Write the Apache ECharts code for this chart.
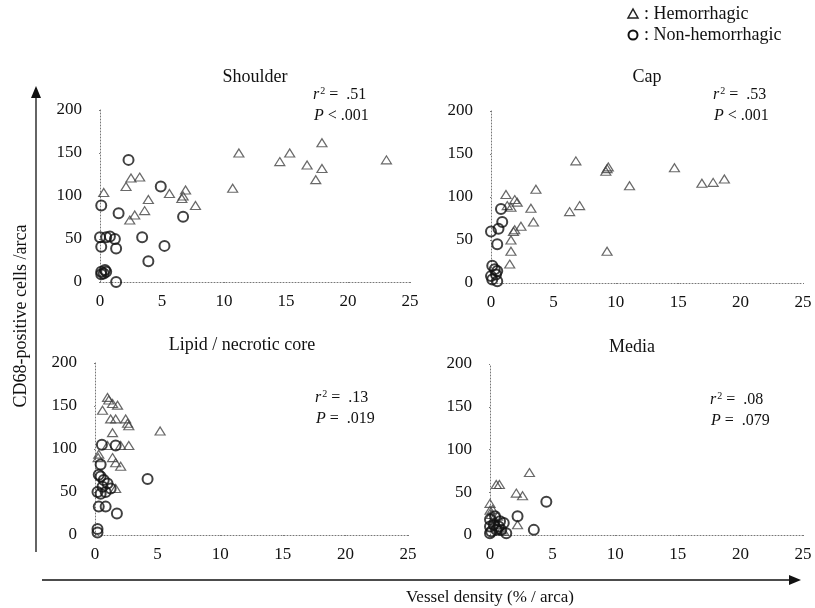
<!DOCTYPE html>
<html>
<head>
<meta charset="utf-8">
<script src="https://cdn.jsdelivr.net/npm/echarts@6/dist/echarts.min.js"></script>
<style>
html,body{margin:0;padding:0;background:#fff;}
#c{width:815px;height:608px;}
</style>
</head>
<body>
<div id="c"></div>
<script>
// ---- Data (vessel density %, CD68-positive cells) ----
var panelTitles = ['Shoulder', 'Cap', 'Lipid / necrotic core', 'Media'];
var r2Labels = ['.51', '.53', '.13', '.08'];
var pLabels = ['< .001', '< .001', '=  .019', '=  .079'];

var shoulderHem = [[0.3,104],[2.5,121],[2.1,111],[3.2,122],[2.4,72],[2.8,78],[3.6,83],[3.9,96],
  [5.6,103],[6.6,97],[6.7,100],[6.9,107],[7.7,89],[10.7,109],[11.2,150],[14.5,140],[15.3,150],
  [16.7,136],[17.9,162],[17.9,132],[17.4,119],[23.1,142]];
var shoulderNon = [[2.3,142],[0.1,89],[1.5,80],[0.0,52],[0.5,52],[0.8,53],[1.2,50],[0.1,41],[1.3,39],
  [3.4,52],[4.9,111],[5.2,42],[3.9,24],[6.7,76],[0.1,12],[0.4,14],[0.3,10],[0.1,9],[0.5,12],[1.3,0]];

var capHem = [[6.8,142],[9.3,133],[9.4,135],[9.2,130],[14.7,134],[11.1,113],[16.9,116],[17.8,117],
  [18.7,121],[3.6,109],[1.2,103],[1.3,90],[1.9,97],[2.1,94],[1.6,88],[3.2,87],[6.3,83],[7.1,90],
  [3.4,71],[2.4,66],[1.9,62],[1.8,60],[1.6,50],[1.6,37],[1.5,22],[9.3,37]];
var capNon = [[0.8,86],[0.9,71],[0.6,63],[0.0,60],[0.5,45],[0.1,20],[0.3,16],[0.4,10],[0.1,4],
  [0.5,2],[0.0,8],[0.5,14]];

var lipidHem = [[1.0,160],[1.1,157],[1.4,153],[1.8,151],[0.6,145],[1.25,135],[1.65,135],[2.45,135],
  [2.7,127],[2.6,130],[1.4,119],[1.0,104],[2.05,104],[2.7,104],[0.25,90],[1.4,90],[1.65,84],
  [2.05,80],[1.65,54],[0.3,94],[5.2,121]];
var lipidNon = [[0.55,105],[1.65,104],[0.45,82],[0.3,70],[0.45,68],[0.7,64],[1.0,60],[0.6,56],
  [0.2,50],[0.45,48],[0.85,50],[1.25,54],[0.3,33],[0.85,33],[1.75,25],[0.2,3],[0.2,7],[4.2,65]];

var mediaHem = [[0.5,59],[0.75,59],[2.1,49],[2.6,46],[3.15,73],[0.0,37],[2.2,12],[0.0,29],[0.1,24],
  [0.3,20],[0.4,16],[0.5,12],[0.7,8],[0.9,6],[1.1,4],[0.2,30],[0.6,22]];
var mediaNon = [[4.5,39],[2.2,22],[3.5,6],[0.0,18],[0.3,12],[0.5,6],[0.0,2],[0.4,22],[0.8,16],
  [0.7,10],[1.1,14],[0.0,10],[0.1,4],[0.9,6],[1.3,2]];

var hemSets = [shoulderHem, capHem, lipidHem, mediaHem];
var nonSets = [shoulderNon, capNon, lipidNon, mediaNon];

var xMin = 0, xMax = 25, xStep = 5;
var yMin = 0, yMax = 200, yStep = 50;

// ---- Layout ----
var grids = [
  {left:100, top:110, width:310, height:172},
  {left:491, top:111, width:312, height:172},
  {left:95,  top:363, width:313, height:172},
  {left:490, top:364, width:313, height:171}
];
var titlePos = [[255,77],[647,77],[242,345],[632,347]];
var statPos = [[313,95],[713,95],[315,398],[710,400]];

var FONT = '"Liberation Serif", "Times New Roman", serif';
var dotted = {color:'#777', width:1, type:[1,2]};

var option = {
  animation:false,
  backgroundColor:'#fff',
  grid: grids,
  xAxis: [], yAxis: [], series: [],
  graphic: []
};

for (var i=0;i<4;i++){
  option.xAxis.push({
    gridIndex:i, type:'value', min:xMin, max:xMax, interval:xStep,
    axisLine:{show:true, lineStyle:dotted},
    axisTick:{show:true, length:3, inside:false, lineStyle:dotted},
    splitLine:{show:false},
    axisLabel:{fontFamily:FONT, fontSize:17, color:'#111', margin:11}
  });
  option.yAxis.push({
    gridIndex:i, type:'value', min:yMin, max:yMax, interval:yStep,
    axisLine:{show:true, lineStyle:dotted},
    axisTick:{show:true, length:3, lineStyle:dotted},
    splitLine:{show:false},
    axisLabel:{fontFamily:FONT, fontSize:17, color:'#111', margin:18}
  });
  option.series.push({
    type:'scatter', xAxisIndex:i, yAxisIndex:i, data:hemSets[i],
    symbol:'triangle', symbolSize:[10,8],
    itemStyle:{color:'rgba(255,255,255,0)', borderColor:'#444', borderWidth:1.2}
  });
  option.series.push({
    type:'scatter', xAxisIndex:i, yAxisIndex:i, data:nonSets[i],
    symbol:'circle', symbolSize:10,
    itemStyle:{color:'rgba(255,255,255,0)', borderColor:'#111', borderWidth:2}
  });
  option.graphic.push({
    type:'text', x:titlePos[i][0], y:titlePos[i][1],
    style:{text:panelTitles[i], font:'18px '+FONT, fill:'#111', textAlign:'center', textVerticalAlign:'middle'}
  });
  option.graphic.push({
    type:'text', x:statPos[i][0], y:statPos[i][1],
    style:{
      text:'{i|r}{s|2}{n| =  '+r2Labels[i]+'}',
      textVerticalAlign:'middle',
      rich:{
        i:{fontFamily:FONT, fontStyle:'italic', fontSize:16, fill:'#111', lineHeight:18},
        s:{fontFamily:FONT, fontSize:10, fill:'#111', verticalAlign:'top', lineHeight:18, padding:[0,0,6,1]},
        n:{fontFamily:FONT, fontSize:16, fill:'#111', lineHeight:18}
      }
    }
  });
  option.graphic.push({
    type:'text', x:statPos[i][0]+1, y:statPos[i][1]+21,
    style:{
      text:'{i|P}{n| '+pLabels[i]+'}',
      textVerticalAlign:'middle',
      rich:{
        i:{fontFamily:FONT, fontStyle:'italic', fontSize:16, fill:'#111'},
        n:{fontFamily:FONT, fontSize:16, fill:'#111'}
      }
    }
  });
}

// Legend (top right)
option.graphic.push(
  {type:'polygon', shape:{points:[[628,18],[638,18],[633,9]]}, style:{fill:'none', stroke:'#222', lineWidth:1.5}},
  {type:'text', x:644, y:14, style:{text:': Hemorrhagic', font:'18px '+FONT, fill:'#111', textVerticalAlign:'middle'}},
  {type:'circle', shape:{cx:633, cy:35, r:4.5}, style:{fill:'none', stroke:'#111', lineWidth:2}},
  {type:'text', x:644, y:35, style:{text:': Non-hemorrhagic', font:'18px '+FONT, fill:'#111', textVerticalAlign:'middle'}}
);

// Outer axes with arrows
option.graphic.push(
  {type:'line', shape:{x1:36, y1:552, x2:36, y2:88}, style:{stroke:'#111', lineWidth:1.3}},
  {type:'polygon', shape:{points:[[31,98],[36,86],[41,98]]}, style:{fill:'#111'}},
  {type:'line', shape:{x1:42, y1:580, x2:795, y2:580}, style:{stroke:'#111', lineWidth:1.3}},
  {type:'polygon', shape:{points:[[789,575],[801,580],[789,585]]}, style:{fill:'#111'}},
  {type:'text', x:21, y:316, rotation:Math.PI/2,
    style:{text:'CD68-positive cells /arca', font:'18px '+FONT, fill:'#111', textAlign:'center', textVerticalAlign:'middle'}},
  {type:'text', x:490, y:598,
    style:{text:'Vessel density (% / arca)', font:'17px '+FONT, fill:'#111', textAlign:'center', textVerticalAlign:'middle'}}
);

var chart = echarts.init(document.getElementById('c'), null, {renderer:'canvas'});
chart.setOption(option);
</script>
</body>
</html>
